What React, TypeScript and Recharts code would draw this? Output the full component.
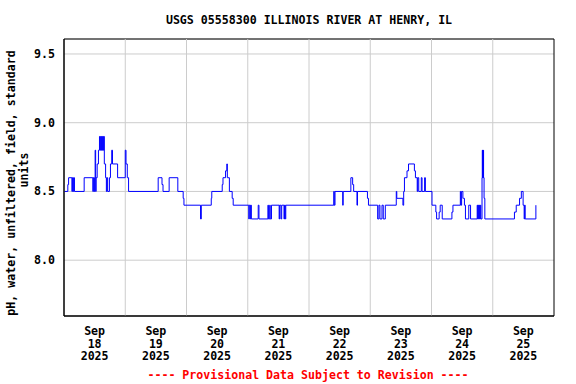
import React from 'react';
import { LineChart, Line, XAxis, YAxis, CartesianGrid, ReferenceLine, ReferenceArea } from 'recharts';

// Hours since Sep 18 2025 00:00 at which the pH reading changes (step series)
const hours = [
  0.2, 1.5, 1.8, 3.1, 3.3, 3.6, 3.8, 4.1, 7.9, 11.3, 11.5, 11.8, 12.0, 12.2, 12.4, 12.6, 13.0, 13.5,
  13.9, 14.2, 14.4, 14.6, 14.8, 15.0, 15.2, 15.4, 15.6, 15.8, 16.3, 16.6, 16.8, 17.1, 17.8, 18.2,
  18.7, 19.0, 21.0, 24.0, 24.3, 24.8, 25.3, 36.9, 38.4, 38.8, 41.2, 44.6, 46.7, 47.0, 53.5, 53.8,
  57.7, 57.9, 62.0, 62.3, 63.3, 63.8, 64.0, 64.8, 65.9, 66.3, 72.4, 72.6, 73.0, 73.2, 73.4, 76.1,
  76.4, 79.9, 80.1, 80.6, 80.8, 81.3, 84.3, 84.5, 85.0, 85.3, 86.2, 86.4, 86.7, 86.9, 105.7, 105.9,
  106.2, 109.2, 109.4, 112.4, 113.1, 113.5, 114.8, 115.0, 118.9, 119.3, 122.9, 123.4, 123.8, 124.6,
  125.1, 125.9, 130.2, 130.4, 132.8, 133.1, 133.4, 134.4, 135.0, 137.3, 137.7, 138.4, 138.6, 139.0,
  140.0, 140.3, 141.3, 141.6, 144.2, 145.7, 146.0, 147.0, 147.4, 148.2, 152.0, 152.4, 155.3, 155.5,
  155.8, 156.3, 156.6, 156.9, 157.3, 158.6, 159.3, 161.9, 162.1, 162.3, 162.5, 162.7, 162.9, 163.1,
  163.3, 163.8, 163.9, 164.0, 164.1, 164.2, 164.3, 164.4, 164.6, 164.9, 176.5, 177.2, 178.5, 179.2,
  179.9, 180.3, 180.5, 180.7, 184.9,
];

const phValues = [
  8.5, 8.55, 8.6, 8.5, 8.6, 8.5, 8.6, 8.5, 8.6, 8.5, 8.6, 8.5, 8.6, 8.8, 8.5, 8.6, 8.7, 8.8,
  8.9, 8.8, 8.9, 8.8, 8.9, 8.8, 8.9, 8.8, 8.9, 8.7, 8.6, 8.5, 8.6, 8.5, 8.6, 8.7,
  8.8, 8.7, 8.6, 8.8, 8.7, 8.6, 8.5, 8.6, 8.55, 8.5, 8.6, 8.5, 8.45, 8.4, 8.3, 8.4,
  8.45, 8.5, 8.55, 8.6, 8.65, 8.7, 8.6, 8.5, 8.45, 8.4, 8.3, 8.4, 8.3, 8.4, 8.3, 8.4,
  8.3, 8.4, 8.3, 8.4, 8.3, 8.4, 8.3, 8.4, 8.3, 8.4, 8.3, 8.4, 8.3, 8.4, 8.5, 8.4,
  8.5, 8.4, 8.5, 8.6, 8.55, 8.5, 8.4, 8.5, 8.45, 8.4, 8.3, 8.4, 8.3, 8.4,
  8.3, 8.4, 8.5, 8.45, 8.4, 8.5, 8.6, 8.65, 8.7, 8.65, 8.6, 8.5, 8.6, 8.5,
  8.6, 8.5, 8.6, 8.5, 8.4, 8.35, 8.3, 8.35, 8.4, 8.3, 8.35, 8.4, 8.5, 8.4,
  8.5, 8.45, 8.45, 8.4, 8.3, 8.4, 8.3, 8.4, 8.3, 8.4, 8.3, 8.4, 8.3, 8.4,
  8.3, 8.6, 8.8, 8.6, 8.8, 8.6, 8.8, 8.6, 8.45, 8.3, 8.35, 8.4, 8.45, 8.5,
  8.4, 8.3, 8.4, 8.3, 8.4,
];

const dayTicks = [12, 36, 60, 84, 108, 132, 156, 180];
const dayLabels = ['18', '19', '20', '21', '22', '23', '24', '25'];
const monthLabel = 'Sep';
const yearLabel = '2025';
const midnightLines = [24, 48, 72, 96, 120, 144, 168];
const yTicks = [8.0, 8.5, 9.0, 9.5];
const X_DOMAIN: [number, number] = [0, 192];
const Y_DOMAIN: [number, number] = [7.594, 9.609];

const titleText = 'USGS 05558300 ILLINOIS RIVER AT HENRY, IL';
const yLabelLine1 = 'pH, water, unfiltered, field, standard';
const yLabelLine2 = 'units';
const footerText = '---- Provisional Data Subject to Revision ----';

const data = hours.map((t, i) => ({ t, ph: phValues[i] }));

const FONT = '"DejaVu Sans Mono", "Liberation Mono", monospace';
const FS = 11.6;

const XTick = (props: any) => {
  const { x, y, payload, index } = props;
  const i = dayTicks.indexOf(payload.value);
  return (
    <text x={x} textAnchor="middle" fontFamily={FONT} fontWeight="bold" fontSize={FS} fill="#000">
      <tspan x={x} y={y + 19}>{monthLabel}</tspan>
      <tspan x={x} y={y + 31.5}>{dayLabels[i >= 0 ? i : index]}</tspan>
      <tspan x={x} y={y + 44}>{yearLabel}</tspan>
    </text>
  );
};

const YTick = (props: any) => {
  const { x, y, payload } = props;
  return (
    <text x={x - 9} y={y + 4} textAnchor="end" fontFamily={FONT} fontWeight="bold" fontSize={FS} fill="#000">
      {Number(payload.value).toFixed(1)}
    </text>
  );
};

export default function App() {
  return (
    <div style={{ position: 'absolute', left: 0, top: 0, width: 576, height: 384, background: '#fff' }}>
      <LineChart
        width={576}
        height={384}
        data={data}
        margin={{ top: 39, right: 22, left: 0, bottom: 0 }}
      >
        <CartesianGrid vertical={false} stroke="#cccccc" strokeWidth={1} />
        {midnightLines.map((m) => (
          <ReferenceLine key={m} x={m} stroke="#cccccc" strokeWidth={1} />
        ))}
        <XAxis
          type="number"
          dataKey="t"
          domain={X_DOMAIN}
          ticks={dayTicks}
          allowDataOverflow
          height={68}
          tickLine={false}
          tickSize={0}
          tickMargin={0}
          axisLine={{ stroke: '#000' }}
          tick={<XTick />}
          interval={0}
        />
        <YAxis
          type="number"
          domain={Y_DOMAIN}
          ticks={yTicks}
          allowDataOverflow
          width={64}
          tickLine={false}
          tickSize={0}
          tickMargin={0}
          axisLine={{ stroke: '#000' }}
          tick={<YTick />}
          interval={0}
        />
        <ReferenceArea
          x1={X_DOMAIN[0]}
          x2={X_DOMAIN[1]}
          y1={Y_DOMAIN[0]}
          y2={Y_DOMAIN[1]}
          fill="none"
          fillOpacity={0}
          stroke="#000"
          strokeWidth={1}
          ifOverflow="visible"
        />
        <Line
          type="stepAfter"
          dataKey="ph"
          stroke="#0000ff"
          strokeWidth={1}
          dot={false}
          activeDot={false}
          isAnimationActive={false}
        />
      </LineChart>
      <svg
        width={576}
        height={384}
        style={{ position: 'absolute', left: 0, top: 0, pointerEvents: 'none' }}
      >
        <text x={309} y={24} textAnchor="middle" fontFamily={FONT} fontWeight="bold" fontSize={FS} fill="#000">
          {titleText}
        </text>
        <text
          x={0}
          y={0}
          transform="translate(15,183) rotate(-90)"
          textAnchor="middle"
          fontFamily={FONT}
          fontWeight="bold"
          fontSize={FS}
          fill="#000"
        >
          {yLabelLine1}
        </text>
        <text
          x={0}
          y={0}
          transform="translate(28,170) rotate(-90)"
          textAnchor="middle"
          fontFamily={FONT}
          fontWeight="bold"
          fontSize={FS}
          fill="#000"
        >
          {yLabelLine2}
        </text>
        <text x={308} y={379} textAnchor="middle" fontFamily={FONT} fontWeight="bold" fontSize={FS} fill="#ff0000">
          {footerText}
        </text>
      </svg>
    </div>
  );
}
